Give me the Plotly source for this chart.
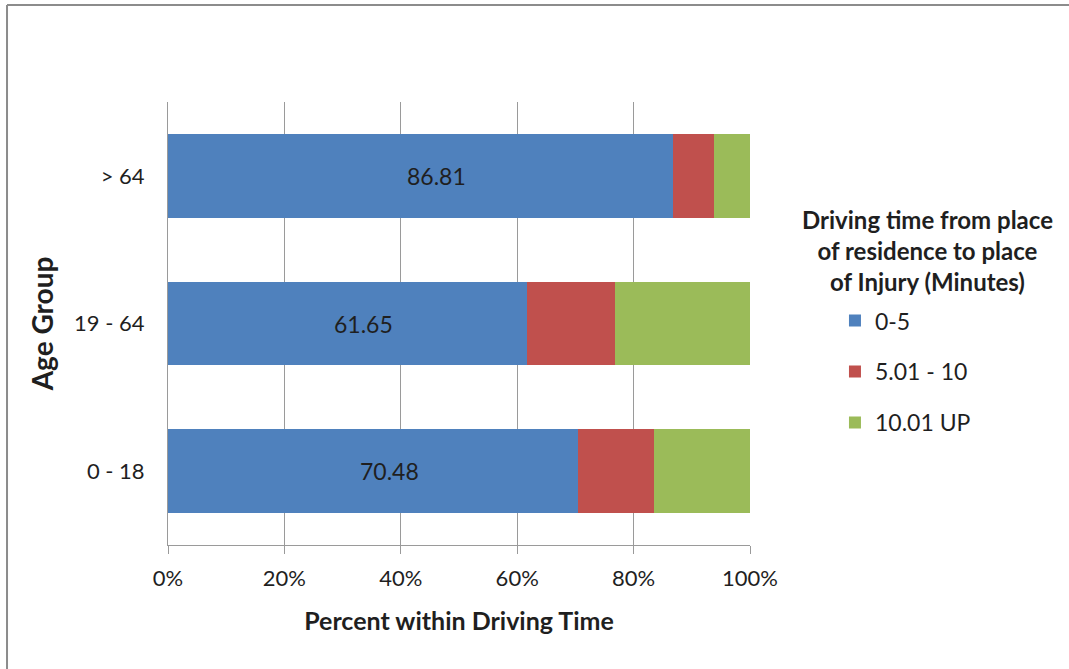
import plotly.graph_objects as go

# Age groups (bottom to top) and the share of each driving-time band, in percent
age_groups = ["0 - 18", "19 - 64", "> 64"]
band_names = ["0-5", "5.01 - 10", "10.01 UP"]
share_0_5 = [70.48, 61.65, 86.81]
share_5_10 = [13.02, 15.21, 6.95]
share_10_up = [16.50, 23.14, 6.24]
x_ticks = [0, 20, 40, 60, 80, 100]
x_tick_labels = ["0%", "20%", "40%", "60%", "80%", "100%"]

colors = ["#4F81BD", "#C0504D", "#9BBB59"]
FONT = "Lato, Carlito, Calibri, sans-serif"
TEXT = "#1f1f1f"

fig = go.Figure()
for i, (name, vals) in enumerate(zip(band_names, [share_0_5, share_5_10, share_10_up])):
    fig.add_trace(go.Bar(
        y=age_groups, x=vals, name=name, orientation="h",
        marker=dict(color=colors[i], line=dict(width=0)),
        width=0.566, legendgroup=name,
    ))

# Value labels on the 0-5 segment
for cat, v in zip(age_groups, share_0_5):
    fig.add_annotation(x=v / 2, y=cat, text=f"{v:.2f}", showarrow=False,
                       xshift=16, font=dict(family=FONT, size=23, color=TEXT))

# Legend heading
fig.add_annotation(xref="paper", yref="paper", x=1.305, y=0.665,
                   text="<b>Driving time from place<br>of residence to place<br>of Injury (Minutes)</b>",
                   showarrow=False, align="center", xanchor="center", yanchor="middle",
                   font=dict(family=FONT, size=24, color=TEXT))

# Chart frame (top and left edges)
frame = dict(type="line", xref="paper", yref="paper", line=dict(color="#8c8c8c", width=2))
fig.add_shape(**frame, x0=-0.2766, x1=1.55, y0=1.219, y1=1.219)
fig.add_shape(**frame, x0=-0.2766, x1=-0.2766, y0=1.219, y1=-0.28)

fig.update_layout(
    barmode="stack",
    width=1069, height=669,
    margin=dict(l=168, r=319, t=102, b=124),
    paper_bgcolor="white", plot_bgcolor="white",
    font=dict(family=FONT, size=22, color=TEXT),
    bargap=0.434,
    legend=dict(x=1.146, y=0.555, xanchor="left", yanchor="top",
                tracegroupgap=18, font=dict(family=FONT, size=23, color=TEXT),
                itemwidth=30, bgcolor="rgba(0,0,0,0)"),
    xaxis=dict(range=[0, 100], tickvals=x_ticks, ticktext=x_tick_labels,
               showgrid=True, gridcolor="#9a9a9a", gridwidth=1,
               showline=True, linecolor="#9a9a9a", linewidth=1,
               ticks="outside", ticklen=8, tickcolor="#9a9a9a",
               ticklabelstandoff=6,
               zeroline=False, tickfont=dict(family=FONT, size=22, color=TEXT),
               title=dict(text="<b>Percent within Driving Time</b>", standoff=22,
                          font=dict(family=FONT, size=25, color=TEXT))),
    yaxis=dict(categoryorder="array", categoryarray=age_groups,
               showline=True, linecolor="#9a9a9a", linewidth=1,
               showgrid=False, ticks="", ticklabelstandoff=18,
               tickfont=dict(family=FONT, size=22, color=TEXT),
               title=dict(text="<b>Age Group</b>", standoff=12,
                          font=dict(family=FONT, size=28, color=TEXT))),
)

fig.write_html("out.html")
